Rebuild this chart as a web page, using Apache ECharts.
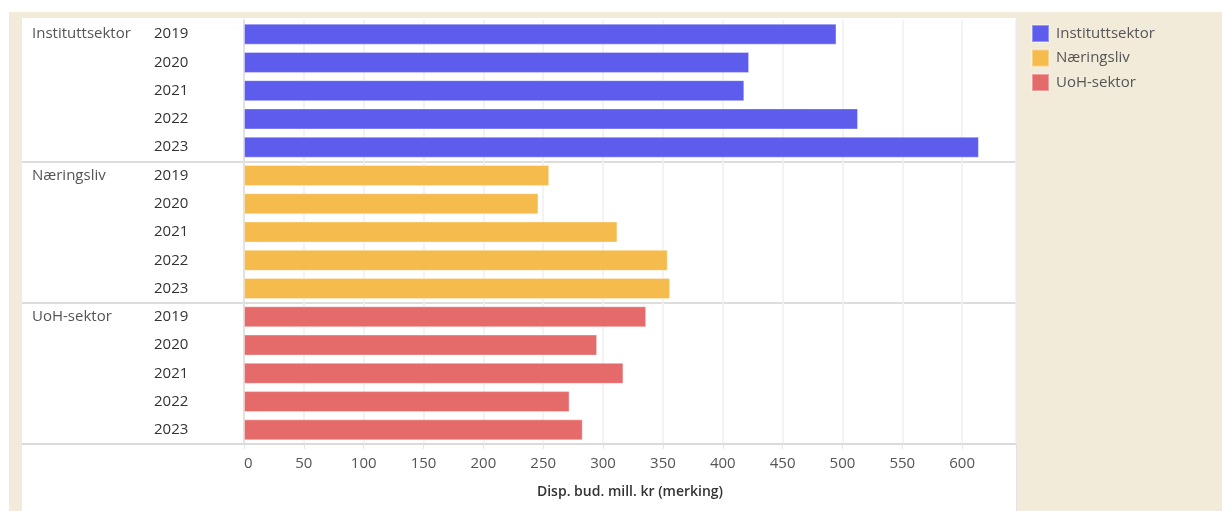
<!DOCTYPE html>
<html>
<head>
<meta charset="utf-8">
<script src="https://cdn.jsdelivr.net/npm/echarts@6/dist/echarts.min.js"></script>
<style>
  html, body { margin: 0; padding: 0; background: #ffffff; }
  #frame { position: absolute; left: 9px; top: 12px; width: 1213px; height: 499px; background: #f3ebda; }
  #panel { position: absolute; left: 22px; top: 18px; width: 994px; height: 493px; background: #ffffff; border-right: 1px solid #e2e2e2; }
  #chart { position: absolute; left: 0; top: 0; width: 1222px; height: 511px; }
</style>
</head>
<body>
<div id="frame"></div>
<div id="panel"></div>
<div id="chart"></div>
<script>
// Sectors and years shown on the vertical axis
const sectors = ['Instituttsektor', 'Næringsliv', 'UoH-sektor'];
const years = ['2019', '2020', '2021', '2022', '2023'];

// Disponible budsjett, mill. kr (merking), per sector and year
const instituttsektor = [495, 422, 418, 513, 614];
const naeringsliv = [255, 246, 312, 354, 356];
const uohSektor = [336, 295, 317, 272, 283];

const sectorColors = ['#5d5ced', '#f5bb4d', '#e56b6b'];
const xTicks = [0, 50, 100, 150, 200, 250, 300, 350, 400, 450, 500, 550, 600];

// One category row per (sector, year)
const rows = [];
sectors.forEach(s => years.forEach(y => rows.push(s + '|' + y)));

const seriesValues = [instituttsektor, naeringsliv, uohSektor];
function rowData(sectorIndex) {
  return rows.map((r, i) => Math.floor(i / years.length) === sectorIndex
    ? seriesValues[sectorIndex][i % years.length] : '-');
}

const font = '"Open Sans", "DejaVu Sans", sans-serif';
const chart = echarts.init(document.getElementById('chart'), null, { renderer: 'canvas' });

chart.setOption({
  animation: false,
  textStyle: { fontFamily: font },
  legend: {
    orient: 'vertical',
    left: 1031,
    top: 24,
    padding: 0,
    icon: 'rect',
    itemWidth: 17,
    itemHeight: 17,
    itemGap: 5.5,
    textStyle: { fontFamily: font, fontSize: 15, lineHeight: 17, color: '#555555', padding: [0, 0, 0, 2] },
    data: sectors
  },
  grid: [
    { left: 244, top: 20, width: 772, height: 424 },
    { left: 22, top: 20, width: 222, height: 424 }
  ],
  xAxis: [
    {
      gridIndex: 0,
      type: 'value',
      min: 0,
      max: 645,
      interval: 50,
      axisLine: { show: true, lineStyle: { color: '#d9d9d9', width: 1.5 } },
      axisTick: { show: true, length: 5, lineStyle: { color: '#e4e4e4' } },
      splitLine: { show: true, lineStyle: { color: '#efefef', width: 1.5 } },
      axisLabel: {
        color: '#555555', fontSize: 15, fontFamily: font, margin: 12,
        showMaxLabel: false,
        alignMinLabel: 'left',
        formatter: v => xTicks.indexOf(v) >= 0 ? String(v) : ''
      },
      name: 'Disp. bud. mill. kr (merking)',
      nameLocation: 'middle',
      nameGap: 41,
      nameTextStyle: { color: '#333333', fontSize: 14, fontWeight: 600, fontFamily: font }
    },
    {
      gridIndex: 1,
      type: 'value',
      min: 0,
      max: 1,
      axisLine: { show: true, lineStyle: { color: '#d9d9d9', width: 1.5 } },
      axisTick: { show: false },
      axisLabel: { show: false },
      splitLine: { show: false }
    }
  ],
  yAxis: [
    {
      gridIndex: 0,
      type: 'category',
      inverse: true,
      data: rows,
      axisLine: { show: true, lineStyle: { color: '#dcdcdc', width: 1.5 } },
      axisTick: { show: false },
      splitLine: {
        show: true,
        interval: (i) => i > 0 && i % years.length === 0,
        lineStyle: { color: '#dddddd', width: 2 }
      },
      axisLabel: {
        align: 'left',
        margin: 90,
        color: '#333333',
        fontSize: 15,
        fontFamily: font,
        formatter: v => v.split('|')[1]
      }
    },
    {
      gridIndex: 1,
      type: 'category',
      inverse: true,
      data: rows,
      axisLine: { show: false },
      axisTick: { show: false },
      splitLine: {
        show: true,
        interval: (i) => i > 0 && i % years.length === 0,
        lineStyle: { color: '#dddddd', width: 2 }
      },
      axisLabel: {
        inside: true,
        margin: 10,
        color: '#555555',
        fontSize: 15,
        fontFamily: font,
        formatter: v => {
          const [s, y] = v.split('|');
          return y === years[0] ? s : '';
        }
      }
    }
  ],
  series: sectors.map((name, k) => ({
    name: name,
    type: 'bar',
    xAxisIndex: 0,
    yAxisIndex: 0,
    barWidth: 21,
    barGap: '-100%',
    itemStyle: {
      color: sectorColors[k],
      borderColor: 'rgba(255,255,255,0.35)',
      borderWidth: 1
    },
    data: rowData(k)
  }))
});
</script>
</body>
</html>
